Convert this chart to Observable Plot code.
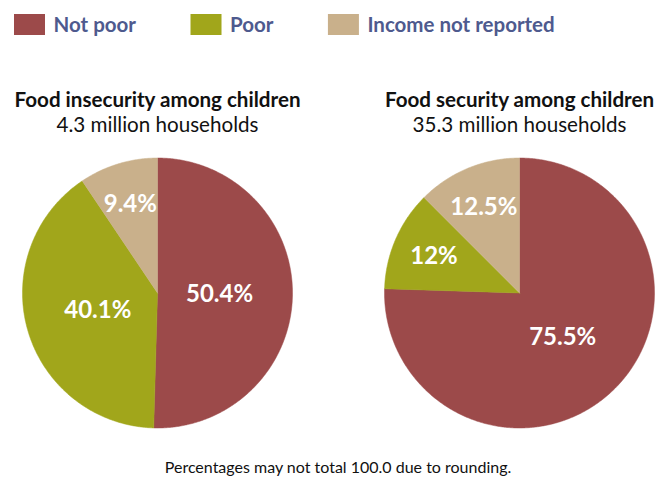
<!DOCTYPE html>
<html>
<head>
<meta charset="utf-8">
<script src="https://cdn.jsdelivr.net/npm/d3@7"></script>
<script src="https://cdn.jsdelivr.net/npm/@observablehq/plot@0.6"></script>
<style>
  html, body { margin: 0; padding: 0; background: #fff; }
  #chart svg { display: block; }
</style>
</head>
<body>
<div id="chart"></div>
<script>
// ---- data ----
const categories = ["Not poor", "Poor", "Income not reported"];
const colors = ["#9c4a4a", "#a1a61b", "#c9b08b"];
const pieTitles = ["Food insecurity among children", "Food security among children"];
const pieSubtitles = ["4.3 million households", "35.3 million households"];
const insecurityValues = [50.4, 40.1, 9.4];
const securityValues = [75.5, 12, 12.5];
const caption = "Percentages may not total 100.0 due to rounding.";

// ---- layout ----
const W = 667, H = 478;
const R = 135;
const pieCx = [157, 519];
const pieCy = 292.5;
const legendFont = "bold 20.5px Lato";
const legendColor = "#4e5a8e";

const pies = [insecurityValues, securityValues].map((values, p) => ({
  values, title: pieTitles[p], subtitle: pieSubtitles[p], cx: pieCx[p]
}));

const slicePts = [];
const labels = [];
pies.forEach((pie, p) => {
  const arcs = d3.pie().sort(null).value(d => d)(pie.values);
  arcs.forEach((a, i) => {
    const key = p + "-" + i;
    const pts = [[pie.cx, pieCy]];
    const n = Math.max(2, Math.ceil((a.endAngle - a.startAngle) / (Math.PI / 360)));
    for (let k = 0; k <= n; k++) {
      const t = a.startAngle + (a.endAngle - a.startAngle) * k / n;
      pts.push([pie.cx + R * Math.sin(t), pieCy - R * Math.cos(t)]);
    }
    pts.push([pie.cx, pieCy]);
    pts.forEach(([x, y]) => slicePts.push({x, y, key, cat: categories[i]}));
    const mid = (a.startAngle + a.endAngle) / 2;
    const lr = a.value < 20 ? 0.69 * R : 0.46 * R;
    labels.push({x: pie.cx + lr * Math.sin(mid), y: pieCy - lr * Math.cos(mid), text: a.value + "%"});
  });
});

// legend layout from measured text widths
const ctx = document.createElement("canvas").getContext("2d");
ctx.font = legendFont;
const legendItems = [];
let lx = 14;
categories.forEach((c, i) => {
  const w = ctx.measureText(c).width;
  legendItems.push({cat: c, x1: lx, x2: lx + 31, tx: lx + 39});
  lx += 31 + 8 + w + 55;
});

const chart = Plot.plot({
  width: W, height: H,
  margin: 0,
  x: {domain: [0, W], range: [0, W], axis: null},
  y: {domain: [0, H], range: [0, H], axis: null},
  color: {domain: categories, range: colors},
  style: {fontFamily: "Lato, sans-serif", background: "#fff"},
  marks: [
    Plot.line(slicePts, {x: "x", y: "y", z: "key", fill: "cat", stroke: "cat", strokeWidth: 0.5, curve: "linear"}),
    Plot.text(labels, {x: "x", y: "y", text: "text", fill: "white", fontWeight: "bold", fontSize: 24}),
    Plot.rect(legendItems, {x1: "x1", x2: "x2", y1: () => 14, y2: () => 35, fill: "cat"}),
    Plot.text(legendItems, {x: "tx", y: () => 25, text: "cat", textAnchor: "start", fill: legendColor, fontWeight: "bold", fontSize: 20.5}),
    Plot.text(pies, {x: "cx", y: () => 100, text: "title", fontWeight: "bold", fontSize: 20.6, fill: "#111"}),
    Plot.text(pies, {x: "cx", y: () => 125, text: "subtitle", fontSize: 20.6, fill: "#111"}),
    Plot.text([caption], {x: () => W / 2 + 4, y: () => 467, text: d => d, fontSize: 16, fill: "#111"})
  ]
});
document.getElementById("chart").appendChild(chart);
</script>
</body>
</html>
